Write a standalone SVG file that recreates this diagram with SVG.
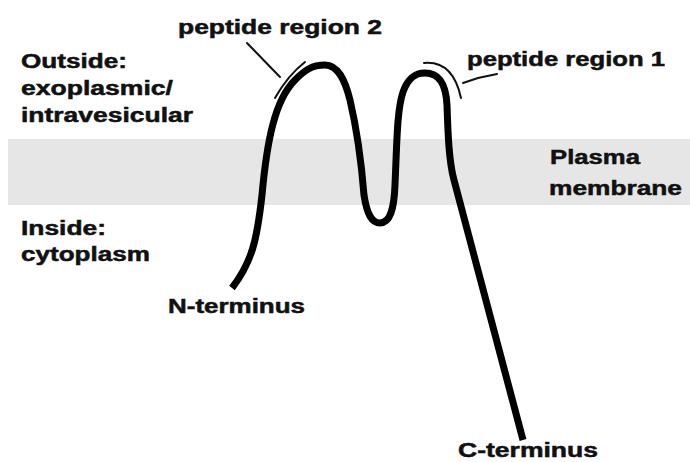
<svg xmlns="http://www.w3.org/2000/svg" width="690" height="462" viewBox="0 0 690 462">
<style>
text{font-family:"Liberation Sans",Arial,sans-serif;font-weight:bold;font-size:20px;fill:#111;stroke:#111;stroke-width:0.5}
.thin{fill:none;stroke:#111;stroke-width:2;stroke-linecap:round}
.chain{fill:none;stroke:#000;stroke-width:7;stroke-linecap:butt;stroke-linejoin:round}
</style>
<rect width="690" height="462" fill="#fff"/>
<g id="membrane">
<rect x="8" y="139" width="682" height="66" fill="#e6e6e6"/>
<text x="550" y="164" textLength="90" lengthAdjust="spacingAndGlyphs">Plasma</text>
<text x="549" y="195" textLength="133" lengthAdjust="spacingAndGlyphs">membrane</text>
</g>
<g id="outside">
<text x="21" y="68" textLength="106" lengthAdjust="spacingAndGlyphs">Outside:</text>
<text x="21" y="95" textLength="152" lengthAdjust="spacingAndGlyphs">exoplasmic/</text>
<text x="21" y="122" textLength="172" lengthAdjust="spacingAndGlyphs">intravesicular</text>
</g>
<g id="inside">
<text x="21" y="235" textLength="85" lengthAdjust="spacingAndGlyphs">Inside:</text>
<text x="21" y="261" textLength="129" lengthAdjust="spacingAndGlyphs">cytoplasm</text>
</g>
<g id="protein">
<path class="chain" d="M 232 288 C 252 262, 257 240, 262 195 C 267 140, 275 100, 295 80 C 305 70, 312 65, 325 65 C 338 65, 345 80, 350 100 C 357 130, 362 170, 364 195 C 367 215, 372 223, 380 223 C 390 223, 394 210, 395 185 C 397 140, 397 110, 403 92 C 408 78, 415 73, 425 73 C 440 73, 446 85, 447 105 C 448 135, 449 162, 454 180 L 523 440"/>
<text x="168" y="313" textLength="137" lengthAdjust="spacingAndGlyphs">N-terminus</text>
<text x="458" y="457" textLength="140" lengthAdjust="spacingAndGlyphs">C-terminus</text>
</g>
<g id="peptide2">
<path class="thin" d="M 275 98 C 283 84, 292 72, 305 62"/>
<path class="thin" d="M 247 43 L 280 77"/>
<text x="178" y="34" textLength="204" lengthAdjust="spacingAndGlyphs">peptide region 2</text>
</g>
<g id="peptide1">
<path class="thin" d="M 424 63 C 445 61, 456 75, 461 98"/>
<path class="thin" d="M 463 83 L 478 78 L 497 74"/>
<text x="467" y="66" textLength="198" lengthAdjust="spacingAndGlyphs">peptide region 1</text>
</g>
</svg>
